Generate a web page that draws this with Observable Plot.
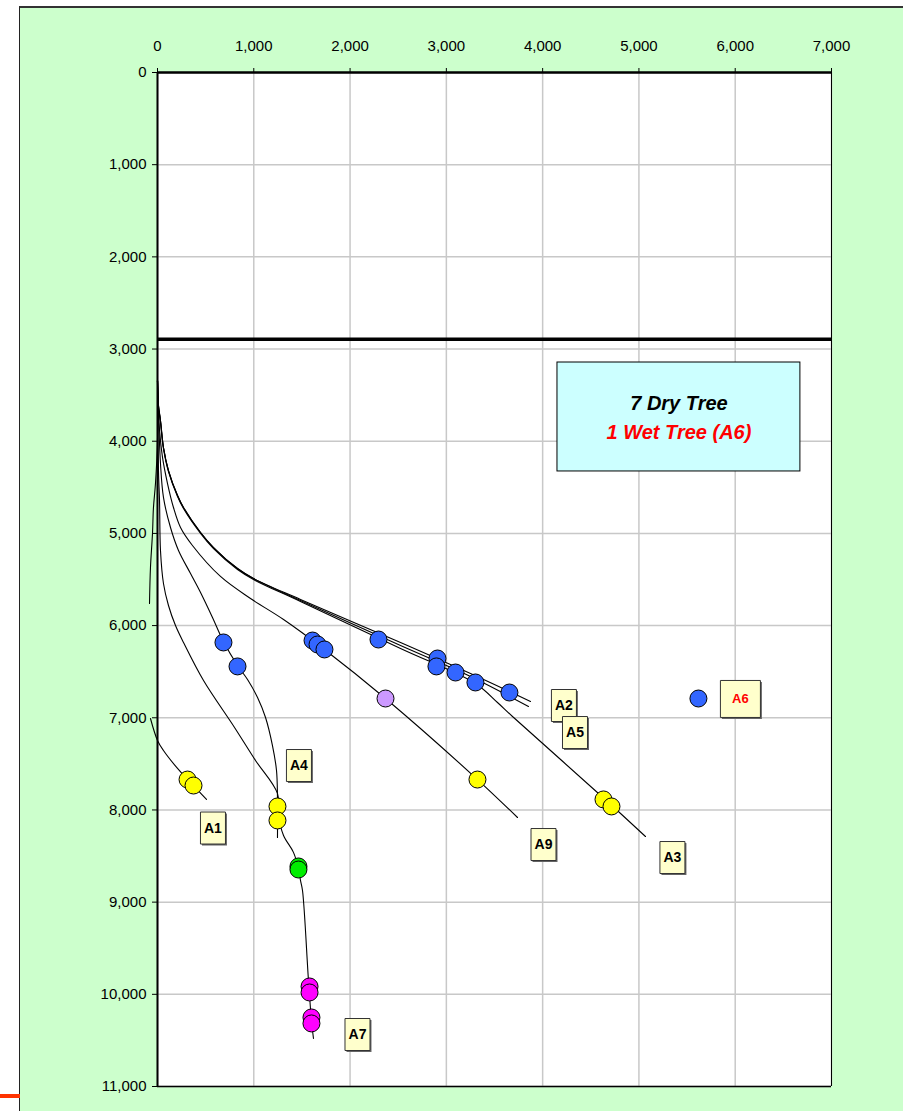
<!DOCTYPE html>
<html>
<head>
<meta charset="utf-8">
<script src="https://cdn.jsdelivr.net/npm/d3@7"></script>
<script src="https://cdn.jsdelivr.net/npm/@observablehq/plot@0.6"></script>
<style>
  html, body { margin: 0; padding: 0; background: #ffffff; }
  #wrap { position: relative; width: 903px; height: 1111px; overflow: hidden; background: #ffffff; }
  #panel { position: absolute; left: 19px; top: 6px; width: 960px; height: 1200px; background: #CCFFCC;
           border-left: 1.5px solid #222; border-top: 2px solid #333; }
  #redmark { position: absolute; left: 0; top: 1094px; width: 20px; height: 4px; background: #FF3300; }
  #chart { position: absolute; left: 0; top: 0; }
</style>
</head>
<body>
<div id="wrap">
  <div id="panel"></div>
  <div id="redmark"></div>
  <div id="chart"></div>
</div>
<script>
// ---- axis ticks ----
const xTicks = [0, 1000, 2000, 3000, 4000, 5000, 6000, 7000];
const yTicks = [0, 1000, 2000, 3000, 4000, 5000, 6000, 7000, 8000, 9000, 10000, 11000];
const seabedDepth = [2895];

// ---- well paths: [horizontal displacement, depth] ----
const wellA2 = [[0,3340],[10,3610],[31,3775],[62,4068],[114,4318],[208,4589],[270,4719],[447,4990],[582,5153],[831,5381],[997,5489],[1485,5717],[2524,6183],[3251,6520],[3874,6823]];
const wellA5 = [[0,3340],[10,3610],[31,3775],[62,4068],[114,4318],[208,4589],[270,4719],[447,4990],[582,5153],[831,5381],[997,5489],[1485,5728],[2524,6216],[3251,6552],[3853,6878]];
const wellA3 = [[0,3340],[10,3620],[31,3790],[62,4080],[114,4330],[208,4600],[270,4730],[447,5000],[582,5165],[831,5392],[997,5500],[1485,5739],[2524,6248],[3302,6628],[3531,6834],[3687,6986],[4673,7908],[5068,8288]];
const wellA9 = [[0,3340],[21,3880],[52,4176],[104,4459],[166,4719],[239,4936],[363,5131],[654,5467],[966,5706],[1309,5934],[1734,6259],[2368,6791],[3323,7670],[3739,8082]];
const wellA4 = [[0,3340],[31,4242],[62,4610],[135,4936],[218,5185],[343,5435],[447,5641],[571,5912],[685,6173],[831,6433],[935,6585],[1039,6780],[1122,6997],[1194,7301],[1236,7572],[1246,7865],[1246,8299]];
const wellA7 = [[0,3340],[10,4318],[21,4643],[31,5185],[62,5543],[114,5782],[187,5999],[270,6183],[478,6596],[800,7105],[1018,7463],[1246,7821],[1256,8060],[1309,8277],[1412,8460],[1464,8635],[1485,8765],[1506,8874],[1568,9850],[1599,10284],[1620,10479]];
const wellA1 = [[0,3340],[0,3990],[-21,4459],[-42,4720],[-52,5000],[-73,5370],[-83,5760],[null,null],[-73,7008],[0,7246],[62,7355],[208,7550],[312,7670],[374,7735],[509,7886]];

const wells = [wellA2, wellA5, wellA3, wellA9, wellA4, wellA7, wellA1];

// ---- survey points ----
const blueDots = [[685,6183],[831,6443],[1610,6162],[1662,6205],[1734,6259],[2295,6151],[2908,6357],[2897,6443],[3095,6509],[3302,6617],[3655,6726],[5618,6791]];
const purpleDots = [[2368,6791]];
const yellowDots = [[312,7670],[374,7735],[1246,7962],[1246,8114],[3323,7670],[4632,7886],[4715,7962]];
const greenDots = [[1464,8613],[1464,8646]];
const magentaDots = [[1579,9915],[1579,9980],[1599,10251],[1599,10316]];

// ---- well labels ----
const labelNames = ["A2","A5","A9","A3","A4","A1","A7"];
const labelX     = [4221, 4336, 4009, 5348, 1469, 576, 2077];
const labelY     = [6867, 7160, 8375, 8516, 7518, 8196, 10436];
const wetLabel = {name: "A6", x: 6054, y: 6796};

// ---- note box ----
const noteLines = ["7 Dry Tree", "1 Wet Tree (A6)"];
const noteBox = {x1: 4154, x2: 6677, y1: 3146, y2: 4328};

// ---- build tables ----
const lineRows = [];
wells.forEach((w, i) => w.forEach(([x, y]) => lineRows.push({well: i, x, y})));
const dotRows = [];
const addDots = (arr, fill) => arr.forEach(([x, y]) => dotRows.push({x, y, fill}));
addDots(blueDots, "#3366FF");
addDots(purpleDots, "#CC99FF");
addDots(yellowDots, "#FFFF00");
addDots(greenDots, "#00EE00");
addDots(magentaDots, "#FF00FF");
const labels = labelNames.map((n, i) => ({name: n, x: labelX[i], y: labelY[i]}));
const noteRows = noteLines.map((t, i) => ({t, x: (noteBox.x1 + noteBox.x2) / 2, y: i === 0 ? 3591 : 3905, c: i === 0 ? "black" : "#FF0000"}));

function rectSymbol(w, h) {
  return {draw(ctx) { ctx.moveTo(-w/2, -h/2); ctx.lineTo(w/2, -h/2); ctx.lineTo(w/2, h/2); ctx.lineTo(-w/2, h/2); ctx.closePath(); }};
}
const smallBox = rectSymbol(25, 32);
const bigBox = rectSymbol(40, 37);

const chart = Plot.plot({
  width: 903,
  height: 1111,
  marginLeft: 157,
  marginRight: 72,
  marginTop: 72,
  marginBottom: 25,
  style: {fontFamily: "'Liberation Sans', Arial, sans-serif", fontSize: "15px", background: "transparent", color: "black", overflow: "visible"},
  x: {domain: [0, 7000], label: null},
  y: {domain: [0, 11000], reverse: true, label: null},
  marks: [
    Plot.frame({fill: "white", stroke: null}),
    Plot.gridX(xTicks, {stroke: "#c8c8c8", strokeOpacity: 1, strokeWidth: 1.5}),
    Plot.gridY(yTicks, {stroke: "#c8c8c8", strokeOpacity: 1, strokeWidth: 1.5}),
    Plot.ruleX([7000], {stroke: "black", strokeWidth: 1}),
    Plot.ruleY([11000], {stroke: "black", strokeWidth: 1.5}),
    Plot.ruleX([0], {stroke: "black", strokeWidth: 2}),
    Plot.ruleY([0], {stroke: "black", strokeWidth: 2.5}),
    Plot.axisX(xTicks, {anchor: "top", tickSize: 5, tickPadding: 17, tickFormat: d3.format(","), fontSize: 15, label: null}),
    Plot.axisY(yTicks, {anchor: "left", tickSize: 5, tickPadding: 6, tickFormat: d3.format(","), fontSize: 15, label: null}),
    Plot.ruleY(seabedDepth, {stroke: "black", strokeWidth: 3.5}),
    Plot.rect([noteBox], {x1: "x1", x2: "x2", y1: "y1", y2: "y2", fill: "#CCFFFF", stroke: "black", strokeWidth: 1}),
    Plot.text(noteRows, {x: "x", y: "y", text: "t", fill: "c", fontSize: 20, fontWeight: "bold", fontStyle: "italic"}),
    Plot.line(lineRows, {x: "x", y: "y", z: "well", curve: "catmull-rom", stroke: "black", strokeWidth: 1.1}),
    Plot.dot(dotRows, {x: "x", y: "y", fill: "fill", stroke: "black", strokeWidth: 1, r: 8.5}),
    Plot.dot(labels, {x: "x", y: "y", symbol: smallBox, fill: "#666", stroke: null, dx: 1.5, dy: 1.5}),
    Plot.dot(labels, {x: "x", y: "y", symbol: smallBox, fill: "#FFFFCC", stroke: "#333", strokeWidth: 1}),
    Plot.text(labels, {x: "x", y: "y", text: "name", fontSize: 14, fontWeight: "bold", fill: "black"}),
    Plot.dot([wetLabel], {x: "x", y: "y", symbol: bigBox, fill: "#666", stroke: null, dx: 1.5, dy: 1.5}),
    Plot.dot([wetLabel], {x: "x", y: "y", symbol: bigBox, fill: "#FFFFCC", stroke: "#333", strokeWidth: 1}),
    Plot.text([wetLabel], {x: "x", y: "y", text: "name", fontSize: 13, fontWeight: "bold", fill: "#FF0000"})
  ]
});
document.getElementById("chart").appendChild(chart);
</script>
</body>
</html>
